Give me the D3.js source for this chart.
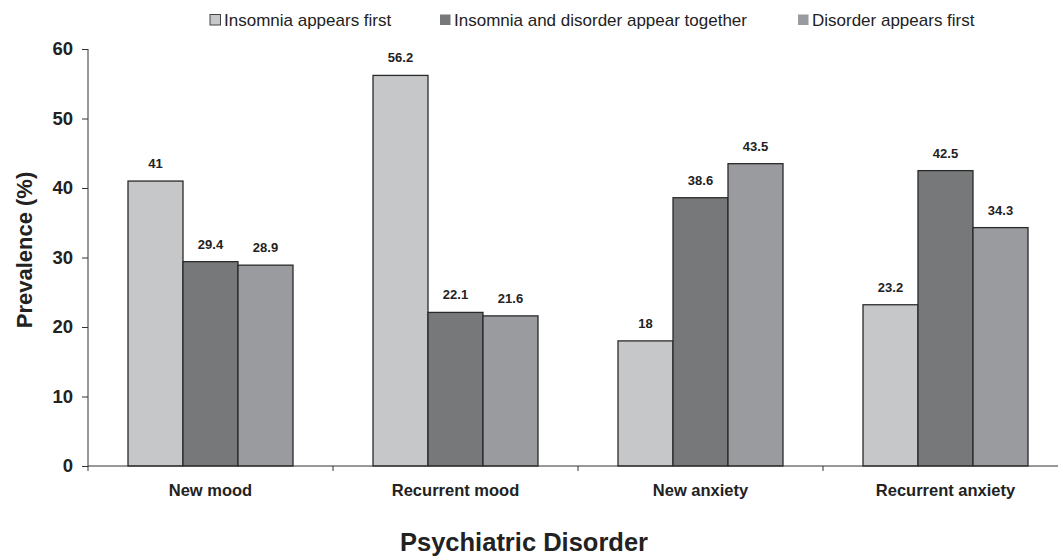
<!DOCTYPE html>
<html><head><meta charset="utf-8">
<script src="https://cdn.jsdelivr.net/npm/d3@7/dist/d3.min.js"></script>
<style>body{margin:0;background:#fff}svg{display:block;font-family:Arial,"Liberation Sans",sans-serif}</style>
</head><body><svg id="c" width="1058" height="556"></svg>
<script>
const categories = ["New mood","Recurrent mood","New anxiety","Recurrent anxiety"];
const seriesNames = ["Insomnia appears first","Insomnia and disorder appear together","Disorder appears first"];
const insomniaFirst = [41, 56.2, 18, 23.2];
const together = [29.4, 22.1, 38.6, 42.5];
const disorderFirst = [28.9, 21.6, 43.5, 34.3];
const yTicks = [0,10,20,30,40,50,60];
const colors = ["#c6c7c9","#77787a","#9a9b9e"];
const series = [insomniaFirst, together, disorderFirst];

const svg = d3.select("#c");
const x0 = d3.scaleBand().domain(categories).range([88, 1068]).padding(0);
const x1 = d3.scaleBand().domain(d3.range(3)).range([40, x0.bandwidth()-40]).padding(0);
const y = d3.scaleLinear().domain([0,60]).range([466, 49]);

// y axis
const ya = svg.append("g").attr("transform","translate(88,0)")
  .call(d3.axisLeft(y).tickValues(yTicks).tickSize(6).tickPadding(9));
ya.select(".domain").attr("stroke","#333").attr("d","M0,49V466");
ya.selectAll(".tick line").attr("stroke","#333");
ya.selectAll("text").attr("font-size",18.5).attr("font-weight","bold").attr("fill","#222").attr("font-family","Arial, 'Liberation Sans', sans-serif");

// bars
categories.forEach((c,i)=>{
  const g = svg.append("g").attr("transform",`translate(${x0(c)},0)`);
  series.forEach((s,j)=>{
    g.append("rect").attr("x",x1(j)).attr("y",y(s[i])).attr("width",x1.bandwidth()).attr("height",y(0)-y(s[i]))
      .attr("fill",colors[j]).attr("stroke","#2a2a2a").attr("stroke-width",1.3);
    g.append("text").attr("x",x1(j)+x1.bandwidth()/2).attr("y",y(s[i])-13).attr("text-anchor","middle")
      .attr("font-size",13).attr("font-weight","bold").attr("fill","#222").text(s[i]);
  });
});

// x axis
const xa = svg.append("g").attr("transform","translate(0,466)");
xa.append("line").attr("x1",88).attr("x2",1068).attr("stroke","#333");
categories.forEach(c=>{
  xa.append("line").attr("x1",x0(c)).attr("x2",x0(c)).attr("y1",0).attr("y2",5).attr("stroke","#333");
  xa.append("text").attr("x",x0(c)+x0.bandwidth()/2).attr("y",30).attr("text-anchor","middle")
    .attr("font-size",16.5).attr("font-weight","bold").attr("fill","#222").text(c);
});

// axis titles
svg.append("text").attr("transform","translate(32,250) rotate(-90)").attr("text-anchor","middle")
  .attr("font-size",22).attr("font-weight","bold").attr("fill","#222").text("Prevalence (%)");
svg.append("text").attr("x",524).attr("y",551).attr("text-anchor","middle")
  .attr("font-size",25.5).attr("font-weight","bold").attr("fill","#222").text("Psychiatric Disorder");

// legend
const legX = [210, 440, 798];
seriesNames.forEach((n,j)=>{
  svg.append("rect").attr("x",legX[j]).attr("y",14.5).attr("width",10.5).attr("height",10.5).attr("fill",colors[j])
    .attr("stroke", j===0 ? "#444" : "none").attr("stroke-width",1);
  svg.append("text").attr("x",legX[j]+14).attr("y",25.5).attr("font-size",17).attr("fill","#222").text(n);
});
</script></body></html>
